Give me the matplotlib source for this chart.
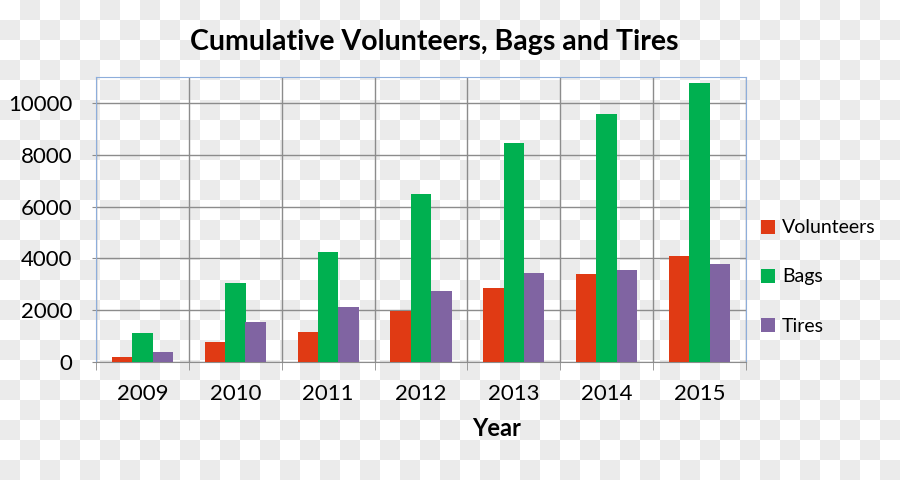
import numpy as np
import matplotlib.pyplot as plt

# data
years = ['2009', '2010', '2011', '2012', '2013', '2014', '2015']
volunteers = [205, 760, 1170, 1980, 2870, 3380, 4100]
bags = [1110, 3040, 4240, 6500, 8450, 9580, 10750]
tires = [400, 1560, 2130, 2750, 3430, 3540, 3780]
series_names = ['Volunteers', 'Bags', 'Tires']
colors = ['#e03a14', '#00b050', '#8064a2']

plt.rcParams['font.family'] = ['Lato', 'DejaVu Sans']

fig = plt.figure(figsize=(9, 4.8), dpi=100)
fig.patch.set_alpha(0)

# transparency checkerboard behind everything
sq = 20
ny, nx = 480 // sq, 900 // sq
board = (np.add.outer(np.arange(ny), np.arange(nx)) % 2).astype(float)
board = np.kron(board, np.ones((sq, sq)))
rgb = np.ones((480, 900, 3))
rgb[board == 1] = 0.922
fig.figimage(rgb, xo=0, yo=0, origin='upper', zorder=-10)

ax = fig.add_axes([96 / 900, 118 / 480, 650 / 900, 285 / 480])
ax.set_facecolor('none')

x = np.arange(len(years))
w = 0.22
for i, (vals, name) in enumerate(zip([volunteers, bags, tires], series_names)):
    ax.bar(x + (i - 1) * w, vals, width=w, color=colors[i], label=name, zorder=3)

ax.set_xlim(-0.5, len(years) - 0.5)
ax.set_ylim(0, 11000)
ax.set_yticks(range(0, 10001, 2000))
ax.set_xticks(x)
ax.set_xticklabels(years)
ax.set_xticks(np.arange(-0.5, len(years), 1.0), minor=True)

grid_c = '#8c8c8c'
ax.grid(axis='y', color=grid_c, linewidth=1, zorder=1)
ax.grid(axis='x', which='minor', color=grid_c, linewidth=1, zorder=1)
ax.tick_params(axis='x', which='major', length=0, pad=16, labelsize=16)
ax.tick_params(axis='x', which='minor', length=6, color=grid_c, direction='out')
ax.tick_params(axis='y', length=3, color=grid_c, pad=14, labelsize=16)

for s in ['left', 'top', 'right']:
    ax.spines[s].set_color('#8eaedb')
ax.spines['bottom'].set_color(grid_c)

# axis title sits right of centre in the original
fig.text(497 / 900, 1 - 428 / 480, 'Year', ha='center', va='center',
         fontsize=17, fontweight='bold')
fig.text(434 / 900, 1 - 42 / 480, 'Cumulative Volunteers, Bags and Tires', ha='center', va='center',
         fontsize=20.5, fontweight='bold')

fig.legend(loc='center left', bbox_to_anchor=(743 / 900, 1 - 277 / 480), frameon=False,
           fontsize=14, handlelength=0.75, handleheight=0.75, handletextpad=0.35,
           labelspacing=1.65)

fig.savefig('out.png', dpi=100)
